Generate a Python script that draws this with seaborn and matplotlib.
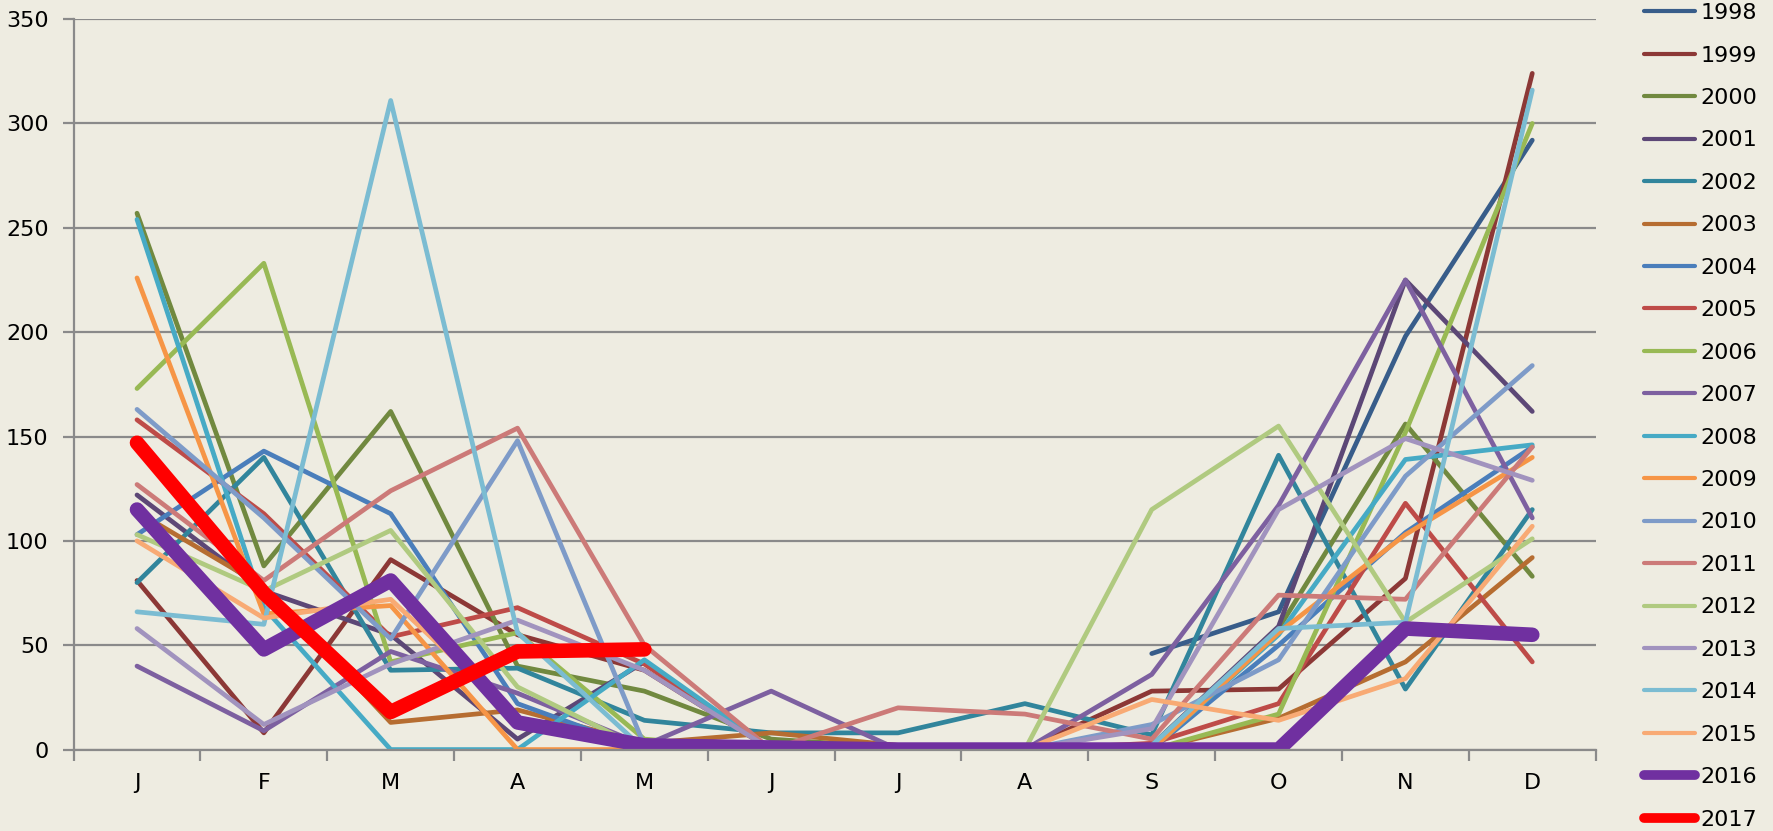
"""
Monthly values 1998-2017, one line per year (Excel-style line chart).
"""

import numpy as np
import pandas as pd
import seaborn as sns
import matplotlib.pyplot as plt
from matplotlib.lines import Line2D

MONTHS = ["J", "F", "M", "A", "M", "J", "J", "A", "S", "O", "N", "D"]

YEARS = [str(y) for y in range(1998, 2018)]

NA = np.nan
V1998 = [NA, NA, NA, NA, NA, NA, NA, NA, 46, 66, 198, 292]
V1999 = [81, 8, 91, 55, 38, 0, 0, 0, 28, 29, 82, 324]
V2000 = [257, 88, 162, 40, 28, 5, 1, 0, 2, 58, 156, 83]
V2001 = [122, 76, 55, 5, 42, 0, 0, 0, 2, 59, 225, 162]
V2002 = [80, 140, 38, 39, 14, 8, 8, 22, 7, 141, 29, 115]
V2003 = [114, 78, 13, 19, 3, 8, 2, 0, 0, 15, 42, 92]
V2004 = [103, 143, 113, 22, 0, 0, 0, 0, 0, 50, 104, 145]
V2005 = [158, 113, 54, 68, 41, 0, 0, 0, 3, 22, 118, 42]
V2006 = [173, 233, 42, 56, 5, 0, 0, 0, 0, 17, 152, 300]
V2007 = [40, 9, 47, 27, 2, 28, 0, 0, 36, 117, 225, 111]
V2008 = [254, 68, 0, 0, 43, 0, 0, 0, 0, 55, 139, 146]
V2009 = [226, 65, 69, 0, 0, 0, 0, 0, 0, 56, 103, 140]
V2010 = [163, 111, 53, 148, 2, 0, 0, 0, 12, 43, 131, 184]
V2011 = [127, 81, 124, 154, 50, 0, 20, 17, 5, 74, 72, 145]
V2012 = [103, 76, 105, 30, 0, 0, 0, 0, 115, 155, 61, 101]
V2013 = [58, 12, 41, 62, 38, 0, 0, 0, 10, 115, 149, 129]
V2014 = [66, 60, 311, 56, 0, 0, 0, 0, 2, 58, 61, 316]
V2015 = [100, 63, 72, 15, 2, 0, 0, 0, 24, 14, 34, 107]
V2016 = [115, 48, 81, 13, 2, 1, 0, 0, 0, 0, 58, 55]
V2017 = [147, 75, 18, 47, 48, NA, NA, NA, NA, NA, NA, NA]

SERIES = [V1998, V1999, V2000, V2001, V2002, V2003, V2004, V2005, V2006, V2007,
          V2008, V2009, V2010, V2011, V2012, V2013, V2014, V2015, V2016, V2017]

COLORS = ["#385D8A", "#8C3836", "#71893F", "#5C4776", "#31859C", "#B66D31",
          "#4A7EBB", "#BE4B48", "#98B954", "#7D60A0", "#46AAC5", "#F69546",
          "#7E9BC8", "#CC7A78", "#B0CA80", "#A193BE", "#7BBCD2", "#F8AA74",
          "#7030A0", "#FF0000"]

BG = "#EEECE1"
GRID = "#8A8A8A"


def build_frame() -> pd.DataFrame:
    rows = []
    for year, values in zip(YEARS, SERIES):
        for i, v in enumerate(values):
            if not np.isnan(v):
                rows.append({"Month": i, "Value": v, "Year": year})
    return pd.DataFrame(rows)


def main() -> None:
    df = build_frame()

    fig = plt.figure(figsize=(17.73, 8.31), dpi=100, facecolor=BG)
    ax = fig.add_axes([0.0415, 0.098, 0.8585, 0.879])
    ax.set_facecolor(BG)

    widths = {y: 3.4 for y in YEARS}
    widths["2016"] = 10.5
    widths["2017"] = 10.5

    sns.lineplot(
        data=df, x="Month", y="Value", hue="Year", size="Year",
        hue_order=YEARS, size_order=YEARS,
        palette=dict(zip(YEARS, COLORS)), sizes=widths,
        estimator=None, errorbar=None, legend=False, ax=ax,
        solid_capstyle="round", solid_joinstyle="round",
    )

    ax.set_xlim(-0.5, 11.5)
    ax.set_ylim(0, 350)
    ax.set_yticks(range(0, 351, 50))
    ax.yaxis.grid(True, color=GRID, linewidth=1.6)
    ax.set_axisbelow(True)

    # ticks on category boundaries, labels in the middle
    ax.set_xticks(np.arange(-0.5, 12, 1))
    ax.set_xticklabels([])
    ax.set_xticks(range(12), minor=True)
    ax.set_xticklabels(MONTHS, minor=True)
    ax.tick_params(axis="x", which="major", length=8, width=1.6, color=GRID)
    ax.tick_params(axis="x", which="minor", length=0, pad=17, labelsize=16)
    ax.tick_params(axis="y", length=8, width=1.6, color=GRID, pad=10, labelsize=16)

    for side in ["top", "right"]:
        ax.spines[side].set_visible(False)
    for side in ["left", "bottom"]:
        ax.spines[side].set_color(GRID)
        ax.spines[side].set_linewidth(1.6)

    ax.set_xlabel("")
    ax.set_ylabel("")

    handles = []
    for year, color in zip(YEARS, COLORS):
        lw = 7 if year in ("2016", "2017") else 3
        handles.append(Line2D([0], [0], color=color, linewidth=lw,
                              solid_capstyle="round"))
    fig.legend(
        handles, YEARS, loc="upper left", bbox_to_anchor=(0.922, 1.007),
        frameon=False, fontsize=16, handlelength=2.3, handletextpad=0.25,
        labelspacing=1.01, borderaxespad=0,
    )

    fig.savefig("out.png", dpi=100, facecolor=BG)


if __name__ == "__main__":
    main()
